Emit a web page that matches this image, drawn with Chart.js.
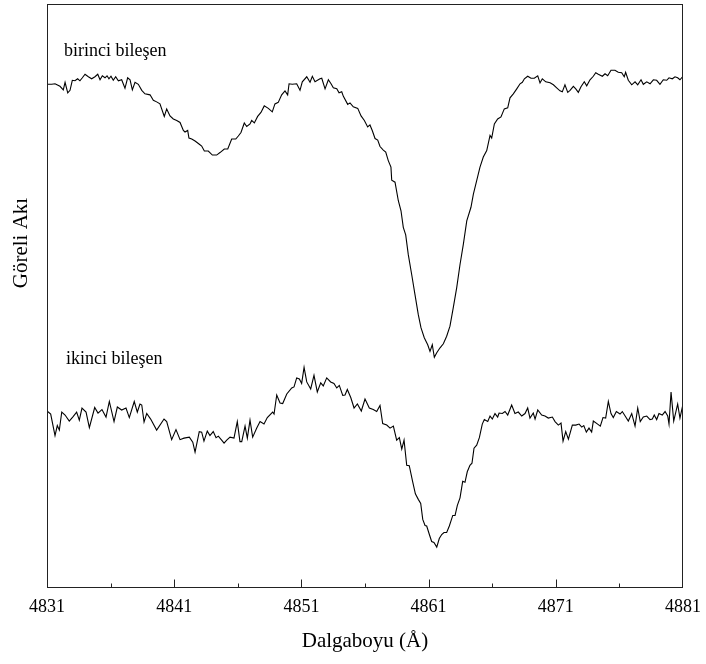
<!DOCTYPE html>
<html>
<head>
<meta charset="utf-8">
<script src="https://cdn.jsdelivr.net/npm/chart.js@4"></script>
<style>
  body { margin: 0; background: #fff; }
  canvas { display: block; }
</style>
</head>
<body>
<canvas id="spectra" width="706" height="664"></canvas>
<script>
// wavelength (Å) and relative flux
const waveA = [
  4831.05,4831.37,4831.63,4832.02,4832.28,4832.42,4832.63,4832.81,4832.99,4833.20,
  4833.41,4833.59,4833.78,4833.99,4834.25,4834.51,4834.77,4834.99,4835.17,4835.35,
  4835.56,4835.72,4835.87,4836.03,4836.21,4836.40,4836.61,4836.87,4837.13,4837.34,
  4837.53,4837.71,4837.92,4838.18,4838.45,4838.70,4839.10,4839.36,4839.62,4839.88,
  4840.22,4840.41,4840.67,4840.93,4841.20,4841.46,4841.72,4841.85,4842.06,4842.16,
  4842.38,4842.64,4842.95,4843.16,4843.37,4843.68,4844.00,4844.34,4844.60,4844.94,
  4845.21,4845.52,4845.84,4846.04,4846.25,4846.51,4846.70,4846.96,4847.09,4847.30,
  4847.56,4847.82,4848.08,4848.40,4848.71,4848.92,4849.18,4849.45,4849.71,4849.92,
  4850.03,4850.28,4850.63,4850.89,4851.07,4851.42,4851.68,4851.86,4852.07,4852.46,
  4852.60,4852.86,4853.12,4853.33,4853.51,4853.78,4853.96,4854.17,4854.30,4854.64,
  4854.82,4855.08,4855.43,4855.69,4855.95,4856.21,4856.39,4856.57,4856.79,4857.00,
  4857.18,4857.44,4857.63,4857.83,4858.04,4858.10,4858.36,4858.62,4858.83,4859.01,
  4859.20,4859.40,4859.67,4859.93,4860.19,4860.40,4860.66,4860.93,4861.11,4861.29,
  4861.45,4861.64,4861.90,4862.16,4862.42,4862.68,4862.94,4863.21,4863.47,4863.73,
  4864.00,4864.33,4864.52,4864.78,4865.04,4865.30,4865.57,4865.83,4865.96,4866.17,
  4866.43,4866.69,4866.95,4867.22,4867.40,4867.66,4867.93,4868.19,4868.37,4868.53,
  4868.79,4869.05,4869.31,4869.58,4869.76,4869.94,4870.21,4870.55,4870.81,4871.07,
  4871.33,4871.51,4871.72,4871.94,4872.12,4872.38,4872.57,4872.77,4872.98,4873.24,
  4873.43,4873.69,4873.95,4874.14,4874.34,4874.66,4874.87,4875.08,4875.34,4875.65,
  4875.91,4876.18,4876.38,4876.49,4876.70,4876.97,4877.23,4877.44,4877.70,4877.88,
  4878.15,4878.41,4878.67,4878.93,4879.19,4879.45,4879.72,4879.90,4880.16,4880.37,
  4880.58,4880.76,4881.00
];
const fluxA = [
  1.004,1.004,1.005,1.000,0.993,1.008,0.987,0.992,1.012,1.011,
  1.015,1.011,1.017,1.024,1.019,1.015,1.019,1.024,1.013,1.021,
  1.017,1.021,1.015,1.020,1.012,1.019,1.011,1.013,0.996,1.017,
  1.013,0.993,1.008,1.004,0.992,0.985,0.983,0.972,0.969,0.965,
  0.940,0.955,0.941,0.935,0.932,0.928,0.912,0.909,0.912,0.897,
  0.895,0.891,0.885,0.881,0.871,0.871,0.863,0.863,0.868,0.875,
  0.875,0.895,0.895,0.901,0.908,0.927,0.920,0.925,0.932,0.927,
  0.940,0.948,0.961,0.956,0.949,0.965,0.968,0.983,0.991,0.983,
  1.005,1.004,1.005,0.992,1.009,1.019,1.008,1.020,1.009,1.015,
  1.016,0.995,1.013,1.005,0.997,0.995,0.987,0.989,0.980,0.964,
  0.967,0.959,0.956,0.941,0.932,0.919,0.923,0.912,0.896,0.893,
  0.880,0.873,0.869,0.852,0.839,0.813,0.809,0.772,0.752,0.719,
  0.704,0.665,0.625,0.585,0.545,0.519,0.499,0.485,0.472,0.485,
  0.460,0.469,0.479,0.487,0.502,0.522,0.559,0.599,0.645,0.685,
  0.732,0.759,0.785,0.812,0.839,0.859,0.872,0.902,0.897,0.925,
  0.935,0.939,0.955,0.957,0.977,0.985,0.995,1.005,1.008,1.015,
  1.020,1.016,1.016,1.021,1.007,1.015,1.009,1.007,1.003,0.997,
  0.991,0.989,1.003,0.988,0.992,1.000,0.995,0.988,0.999,1.009,
  1.001,1.013,1.020,1.027,1.024,1.020,1.025,1.021,1.032,1.032,
  1.028,1.027,1.019,1.028,1.012,1.003,1.009,1.003,1.013,1.004,
  1.009,1.005,1.013,1.012,1.004,1.013,1.012,1.017,1.015,1.019,
  1.017,1.013,1.020
];

const waveB = [
  4831.05,4831.29,4831.63,4831.81,4831.97,4832.16,4832.42,4832.75,4833.02,4833.33,
  4833.54,4833.75,4834.07,4834.33,4834.75,4835.01,4835.32,4835.64,4835.90,4836.27,
  4836.53,4836.87,4837.21,4837.47,4837.86,4838.10,4838.31,4838.45,4838.63,4838.84,
  4839.15,4839.62,4840.20,4840.41,4840.80,4841.14,4841.46,4841.77,4842.19,4842.46,
  4842.64,4842.97,4843.16,4843.34,4843.60,4843.81,4844.07,4844.29,4844.47,4844.73,
  4844.92,4845.13,4845.39,4845.70,4845.96,4846.17,4846.31,4846.57,4846.75,4846.96,
  4847.17,4847.49,4847.75,4848.06,4848.32,4848.74,4848.85,4849.06,4849.32,4849.53,
  4849.85,4850.24,4850.42,4850.63,4850.84,4851.02,4851.21,4851.42,4851.73,4851.99,
  4852.25,4852.52,4852.72,4852.99,4853.30,4853.56,4853.78,4853.98,4854.25,4854.43,
  4854.61,4854.88,4855.14,4855.40,4855.71,4856.00,4856.34,4856.65,4856.92,4857.18,
  4857.39,4857.71,4857.97,4858.23,4858.49,4858.70,4858.89,4859.07,4859.28,4859.48,
  4859.75,4859.96,4860.19,4860.38,4860.54,4860.72,4860.85,4861.06,4861.24,4861.42,
  4861.64,4861.84,4862.03,4862.21,4862.42,4862.63,4862.90,4863.08,4863.26,4863.47,
  4863.68,4863.86,4864.04,4864.25,4864.41,4864.57,4864.78,4864.99,4865.22,4865.38,
  4865.65,4865.83,4866.01,4866.22,4866.43,4866.54,4866.80,4867.01,4867.22,4867.53,
  4867.79,4868.05,4868.32,4868.58,4868.79,4868.97,4869.23,4869.37,4869.58,4869.89,
  4870.15,4870.41,4870.73,4870.94,4871.20,4871.41,4871.57,4871.78,4871.99,4872.30,
  4872.57,4872.83,4873.04,4873.20,4873.40,4873.61,4873.82,4873.95,4874.29,4874.50,
  4874.71,4874.92,4875.13,4875.34,4875.52,4875.76,4876.05,4876.23,4876.50,4876.70,
  4876.97,4877.23,4877.44,4877.64,4877.88,4878.15,4878.41,4878.59,4878.74,4878.93,
  4879.11,4879.37,4879.59,4879.80,4879.90,4880.06,4880.27,4880.58,4880.76,4880.95,
  4881.00
];
const fluxB = [
  0.352,0.347,0.304,0.324,0.315,0.351,0.345,0.333,0.341,0.351,
  0.335,0.359,0.351,0.320,0.360,0.349,0.356,0.341,0.372,0.332,
  0.361,0.355,0.359,0.340,0.372,0.351,0.367,0.365,0.331,0.348,
  0.337,0.315,0.337,0.332,0.296,0.316,0.296,0.299,0.301,0.291,
  0.271,0.312,0.311,0.293,0.313,0.304,0.312,0.300,0.303,0.295,
  0.289,0.295,0.301,0.299,0.332,0.292,0.292,0.323,0.299,0.335,
  0.301,0.319,0.332,0.327,0.340,0.351,0.347,0.385,0.369,0.368,
  0.387,0.399,0.401,0.419,0.417,0.408,0.440,0.411,0.397,0.424,
  0.391,0.409,0.403,0.419,0.411,0.408,0.399,0.404,0.384,0.385,
  0.396,0.380,0.359,0.367,0.353,0.377,0.359,0.356,0.352,0.364,
  0.328,0.325,0.319,0.323,0.295,0.300,0.277,0.295,0.245,0.244,
  0.212,0.188,0.177,0.169,0.137,0.125,0.124,0.107,0.093,0.091,
  0.082,0.099,0.107,0.111,0.111,0.124,0.145,0.145,0.165,0.180,
  0.213,0.211,0.232,0.245,0.249,0.279,0.285,0.300,0.327,0.336,
  0.332,0.343,0.337,0.348,0.341,0.349,0.348,0.352,0.345,0.365,
  0.348,0.351,0.343,0.348,0.359,0.339,0.349,0.337,0.355,0.345,
  0.343,0.339,0.341,0.332,0.325,0.329,0.293,0.312,0.297,0.325,
  0.325,0.327,0.321,0.324,0.311,0.319,0.311,0.333,0.327,0.323,
  0.340,0.339,0.372,0.348,0.340,0.352,0.347,0.352,0.341,0.333,
  0.348,0.323,0.359,0.332,0.341,0.343,0.336,0.337,0.345,0.336,
  0.348,0.345,0.352,0.343,0.327,0.391,0.333,0.367,0.339,0.361,
  0.345
];

const majorTicks = [4831, 4841, 4851, 4861, 4871, 4881];
const minorTicks = [4836, 4846, 4856, 4866, 4876];
const seriesNames = ["birinci bileşen", "ikinci bileşen"];

const serif = "'Liberation Serif', 'Times New Roman', serif";

const toPoints = (w, f) => w.map((v, i) => ({ x: v, y: f[i] }));

// box around the plot, inward tick marks, labels
const decorations = {
  id: "decorations",
  afterDraw(chart) {
    const { ctx, chartArea: a, scales } = chart;
    const x = scales.x;
    const left = Math.round(a.left) + 0.5;
    const right = Math.round(a.right) - 0.5;
    const top = Math.round(a.top) + 0.5;
    const bottom = Math.round(a.bottom) - 0.5;
    const tickX = (v) =>
      Math.min(Math.max(Math.round(x.getPixelForValue(v)) + 0.5, left), right);

    ctx.save();
    ctx.strokeStyle = "#222";
    ctx.lineWidth = 1;
    ctx.strokeRect(left, top, right - left, bottom - top);

    ctx.beginPath();
    majorTicks.forEach((v) => {
      ctx.moveTo(tickX(v), bottom);
      ctx.lineTo(tickX(v), bottom - 8);
    });
    minorTicks.forEach((v) => {
      ctx.moveTo(tickX(v), bottom);
      ctx.lineTo(tickX(v), bottom - 4);
    });
    ctx.stroke();

    ctx.fillStyle = "#000";
    ctx.font = "18px " + serif;
    ctx.textBaseline = "alphabetic";
    ctx.textAlign = "left";
    ctx.fillText(seriesNames[0], 64, 56);
    ctx.fillText(seriesNames[1], 66, 364);

    ctx.translate(21, 243);
    ctx.rotate(-Math.PI / 2);
    ctx.font = "21px " + serif;
    ctx.textAlign = "center";
    ctx.textBaseline = "middle";
    ctx.fillText("Göreli Akı", 0, 0);
    ctx.restore();
  },
};

new Chart(document.getElementById("spectra"), {
  type: "line",
  data: {
    datasets: [
      {
        label: seriesNames[0],
        data: toPoints(waveA, fluxA),
        borderColor: "#000",
        borderWidth: 1.1,
        pointRadius: 0,
        tension: 0,
      },
      {
        label: seriesNames[1],
        data: toPoints(waveB, fluxB),
        borderColor: "#000",
        borderWidth: 1.1,
        pointRadius: 0,
        tension: 0,
      },
    ],
  },
  options: {
    responsive: false,
    animation: false,
    layout: { padding: { left: 47, right: 23, top: 4, bottom: 0 } },
    plugins: { legend: { display: false }, tooltip: { enabled: false } },
    scales: {
      x: {
        type: "linear",
        min: 4831,
        max: 4881,
        afterBuildTicks: (scale) => {
          scale.ticks = majorTicks.map((v) => ({ value: v }));
        },
        afterFit: (scale) => {
          // outer labels fit inside the layout padding already
          scale.paddingLeft = 0;
          scale.paddingRight = 0;
        },
        grid: { display: false, drawTicks: false },
        border: { display: false },
        ticks: {
          color: "#000",
          padding: 8,
          maxRotation: 0,
          autoSkip: false,
          font: { family: serif, size: 18 },
          callback: (v) => String(v),
        },
        title: {
          display: true,
          text: "Dalgaboyu (Å)",
          color: "#000",
          font: { family: serif, size: 21 },
          padding: { top: 3, bottom: 10 },
        },
      },
      y: { display: false, min: 0, max: 1.164 },
    },
  },
  plugins: [decorations],
});
</script>
</body>
</html>
